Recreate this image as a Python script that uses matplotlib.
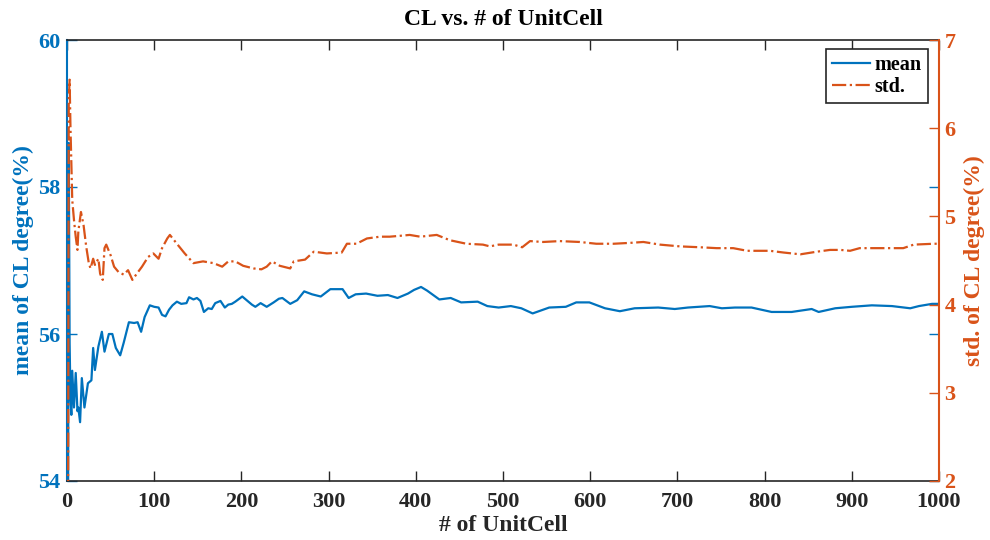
import matplotlib
matplotlib.use("Agg")
import matplotlib.pyplot as plt

plt.rcParams['font.family'] = ['Liberation Serif', 'DejaVu Serif']
plt.rcParams['font.weight'] = 'bold'

BLUE = '#0072BD'
ORANGE = '#D95319'
DARK = '#262626'

title = "CL vs. # of UnitCell"
xlabel = "# of UnitCell"
ylabel_left = "mean of CL degree(%)"
ylabel_right = "std. of CL degree(%)"
legend_labels = ["mean", "std."]

x_ticks = [0, 100, 200, 300, 400, 500, 600, 700, 800, 900, 1000]
left_ticks = [54, 56, 58, 60]
right_ticks = [2, 3, 4, 5, 6, 7]

mean_n = [1, 2, 3, 4, 5, 6, 8, 10, 12, 13, 15, 17, 20, 24, 28, 30, 32, 36, 40, 43,
          48, 52, 56, 61, 65, 71, 77, 81, 85, 89, 95, 100, 105, 109, 113, 117, 121,
          126, 131, 137, 140, 145, 149, 153, 157, 162, 166, 170, 176, 181, 185, 189,
          193, 201, 207, 212, 216, 222, 229, 233, 237, 243, 247, 256, 264, 272, 281,
          291, 302, 316, 323, 331, 343, 356, 368, 379, 391, 398, 406, 413, 427, 440,
          452, 471, 482, 495, 509, 521, 534, 553, 572, 584, 599, 617, 634, 651, 678,
          697, 712, 737, 751, 766, 785, 808, 831, 854, 862, 881, 900, 923, 946, 967,
          977, 992, 1000]
mean_val = [52.0, 58.6, 55.88, 55.1, 54.9, 55.5, 55.0, 55.47, 54.95, 55.0, 54.8, 55.4,
            55.0, 55.33, 55.37, 55.81, 55.51, 55.83, 56.03, 55.76, 56.0, 56.0, 55.81,
            55.71, 55.88, 56.16, 56.15, 56.16, 56.03, 56.23, 56.39, 56.37, 56.36, 56.26,
            56.24, 56.33, 56.39, 56.44, 56.41, 56.42, 56.50, 56.47, 56.49, 56.45, 56.30,
            56.35, 56.34, 56.42, 56.45, 56.36, 56.40, 56.41, 56.44, 56.51, 56.45, 56.40,
            56.37, 56.42, 56.37, 56.40, 56.43, 56.48, 56.49, 56.41, 56.46, 56.58, 56.54,
            56.51, 56.61, 56.61, 56.49, 56.54, 56.55, 56.52, 56.53, 56.49, 56.55, 56.60,
            56.64, 56.59, 56.47, 56.49, 56.43, 56.44, 56.38, 56.36, 56.38, 56.35, 56.28,
            56.36, 56.37, 56.43, 56.43, 56.35, 56.31, 56.35, 56.36, 56.34, 56.36, 56.38,
            56.35, 56.36, 56.36, 56.30, 56.30, 56.34, 56.30, 56.35, 56.37, 56.39, 56.38,
            56.35, 56.38, 56.41, 56.41]

std_n = [1, 2, 3, 4, 5, 6, 8, 10, 12, 13, 16, 19, 22, 25, 27, 30, 32, 36, 38, 41, 43,
         45, 50, 54, 59, 65, 70, 75, 80, 86, 93, 99, 105, 109, 115, 118, 126, 135, 145,
         156, 168, 178, 185, 193, 202, 214, 223, 229, 235, 244, 256, 260, 273, 283, 298,
         315, 321, 332, 344, 359, 370, 382, 393, 405, 424, 439, 458, 477, 485, 495, 512,
         522, 531, 546, 565, 588, 607, 627, 646, 661, 680, 703, 726, 745, 764, 780, 806,
         822, 841, 860, 875, 887, 898, 909, 936, 959, 971, 994, 1000]
std_val = [0.0, 6.3, 6.55, 6.0, 5.6, 5.19, 4.96, 4.77, 4.62, 4.83, 5.05, 4.90, 4.66,
           4.47, 4.41, 4.52, 4.45, 4.52, 4.35, 4.28, 4.64, 4.68, 4.56, 4.43, 4.37, 4.34,
           4.39, 4.28, 4.35, 4.43, 4.54, 4.58, 4.52, 4.64, 4.75, 4.79, 4.69, 4.58, 4.47,
           4.49, 4.47, 4.43, 4.49, 4.49, 4.44, 4.41, 4.40, 4.43, 4.49, 4.44, 4.41, 4.49,
           4.51, 4.60, 4.58, 4.59, 4.69, 4.69, 4.75, 4.77, 4.77, 4.78, 4.79, 4.77, 4.79,
           4.73, 4.69, 4.68, 4.66, 4.68, 4.68, 4.65, 4.72, 4.71, 4.72, 4.71, 4.69, 4.69,
           4.70, 4.71, 4.68, 4.66, 4.65, 4.64, 4.64, 4.61, 4.61, 4.59, 4.57, 4.60, 4.62,
           4.62, 4.61, 4.64, 4.64, 4.64, 4.68, 4.69, 4.69]

fig = plt.figure(figsize=(9.9, 5.4), dpi=100)
ax1 = fig.add_axes([67/990, 1 - 481/540, (939-67)/990, (481-40)/540])
ax2 = ax1.twinx()

l1, = ax1.plot(mean_n, mean_val, color=BLUE, lw=1.6, label=legend_labels[0])
l2, = ax2.plot(std_n, std_val, color=ORANGE, lw=1.6, ls='-.', label=legend_labels[1])

ax1.set_xlim(0, 1000)
ax1.set_ylim(54, 60)
ax2.set_ylim(2, 7)
ax1.set_xticks(x_ticks)
ax1.set_yticks(left_ticks)
ax2.set_yticks(right_ticks)

fs = 16
ax1.tick_params(axis='x', direction='in', top=True, length=7, width=1,
                colors=DARK, labelsize=fs, pad=8)
ax1.tick_params(axis='y', direction='in', right=True, length=7, width=1,
                colors=BLUE, labelsize=fs, pad=5)
ax2.tick_params(axis='y', direction='in', length=7, width=1,
                colors=ORANGE, labelsize=fs, pad=4)

for s in ['top', 'bottom']:
    ax1.spines[s].set_color(DARK)
    ax1.spines[s].set_linewidth(1.2)
ax1.spines['left'].set_color(BLUE)
ax1.spines['left'].set_linewidth(1.5)
ax1.spines['right'].set_visible(False)
for s in ['top', 'bottom', 'left']:
    ax2.spines[s].set_visible(False)
ax2.spines['right'].set_color(ORANGE)
ax2.spines['right'].set_linewidth(1.5)

ax1.set_title(title, fontsize=17, fontweight='bold', color='black', pad=11)
ax1.set_xlabel(xlabel, fontsize=17, fontweight='bold', color=DARK, labelpad=2)
ax1.set_ylabel(ylabel_left, fontsize=17, fontweight='bold', color=BLUE, labelpad=3)
ax2.set_ylabel(ylabel_right, fontsize=17, fontweight='bold', color=ORANGE, labelpad=6)

leg = ax2.legend([l1, l2], legend_labels, loc='upper right',
                 bbox_to_anchor=(0.987, 0.98), prop={'size': 14.5, 'weight': 'bold'},
                 fancybox=False, framealpha=1, edgecolor=DARK, handlelength=1.9,
                 borderpad=0.3, labelspacing=0.1, handletextpad=0.2, borderaxespad=0)
leg.get_frame().set_linewidth(1.2)

fig.savefig("out.png", dpi=100)
